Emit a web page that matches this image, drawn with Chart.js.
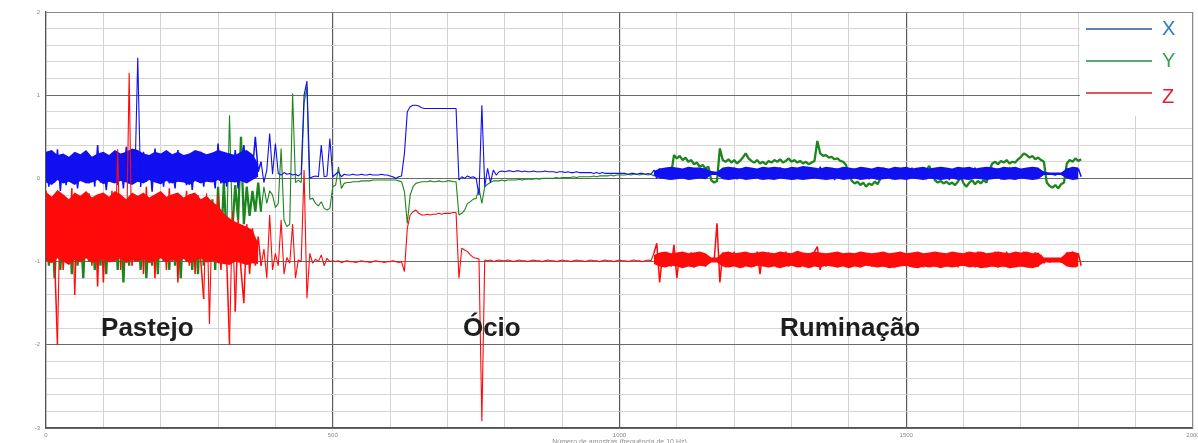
<!DOCTYPE html>
<html><head><meta charset="utf-8">
<script src="https://cdn.jsdelivr.net/npm/chart.js@4.4.1/dist/chart.umd.min.js"></script>
<style>html,body{margin:0;padding:0;background:#fff;overflow:hidden}#wrap{width:1198px;height:443px;position:relative}</style>
</head><body><div id="wrap"><canvas id="c" width="1198" height="443"></canvas></div>
<script>
// ---- data ----
const SAMPLE_STEP = 5;
const seriesNames = ['X', 'Y', 'Z'];
const xTickLabels = [0, 500, 1000, 1500, 2000];
const yTickLabels = [2, 1, 0, -1, -2, -3];
const phaseLabels = ['Pastejo', 'Ócio', 'Ruminação'];
const axisTitle = 'Número de amostras (frequência de 10 Hz)';

const accX = [
 0.30,-0.10,0.28,-0.05,0.35,-0.15,0.22,-0.08,0.18,0.02,
 0.25,-0.12,0.20,-0.02,0.15,-0.06,0.26,-0.10,0.40,-0.05,
 0.22,-0.14,0.18,0.00,0.30,-0.08,0.24,-0.12,0.38,-0.06,
 0.30,-0.02,1.45,-0.10,0.32,-0.04,0.28,-0.16,0.36,-0.02,
 0.25,-0.10,0.30,-0.06,0.22,-0.12,0.34,0.00,0.20,-0.08,
 0.28,-0.14,0.26,-0.04,0.32,-0.10,0.24,-0.02,0.18,-0.12,
 0.42,-0.06,0.22,-0.10,0.30,-0.04,0.34,-0.12,0.20,0.40,
 -0.02,0.26,0.10,0.50,0.08,
 0.20,-0.05,0.10,0.54,0.05,0.42,0.06,0.04,0.07,0.05,
 0.06,0.04,0.05,0.03,0.06,1.00,1.17,0.00,0.02,0.03,
 0.02,0.40,0.02,0.03,0.48,0.02,
 0.05,0.08,0.02,0.05,0.04,0.04,0.05,0.04,0.04,0.05,
 0.04,0.04,0.05,0.04,0.04,0.04,0.05,0.04,0.04,0.03,
 0.02,0.00,0.02,0.03,0.30,0.80,0.86,0.88,0.88,0.87,
 0.85,0.84,0.84,0.84,0.84,0.84,0.84,0.84,0.84,0.84,
 0.84,0.84,0.84,-0.02,0.02,0.00,0.03,0.01,0.02,0.00,
 -0.20,0.88,-0.10,0.12,-0.05,0.10,0.04,0.08,0.09,0.08,
 0.09,0.09,0.08,0.09,0.09,0.08,0.09,0.08,0.08,0.09,
 0.08,0.08,0.08,0.09,0.08,0.08,0.08,0.07,0.08,0.08,
 0.07,0.08,0.07,0.07,0.08,0.07,0.07,0.07,0.07,0.07,
 0.06,0.07,0.06,0.07,0.06,0.06,0.06,0.06,0.06,0.06,
 0.06,0.06,0.05,0.06,0.06,0.05,0.06,0.06,0.05,0.06,
 0.05,0.10,0.00,0.12,0.02,0.11,-0.01,0.13,0.01,0.12,
 0.00,0.11,0.02,0.13,-0.01,0.10,0.01,0.12,0.02,0.11,
 0.04,0.06,0.05,0.07,0.02,0.12,0.00,0.11,0.02,0.13,
 -0.01,0.12,0.01,0.10,0.00,0.12,0.02,0.11,-0.01,0.13,
 0.01,0.12,0.00,0.11,0.02,0.13,0.00,0.12,0.01,0.11,
 -0.01,0.12,0.02,0.13,0.00,0.11,0.01,0.12,0.03,0.14,
 0.00,0.12,0.02,0.11,-0.02,0.12,0.01,0.13,0.00,0.11,
 0.02,0.12,0.00,0.10,0.01,0.12,-0.01,0.11,0.02,0.12,
 0.00,0.13,0.01,0.11,-0.01,0.12,0.02,0.11,0.00,0.12,
 0.01,0.13,0.00,0.11,0.02,0.12,-0.01,0.11,0.01,0.12,
 0.00,0.11,0.02,0.12,-0.02,0.10,0.00,0.12,0.01,0.11,
 -0.01,0.12,0.02,0.13,0.00,0.11,0.01,0.12,0.00,0.13,
 0.01,0.12,-0.01,0.11,0.02,0.13,0.00,0.12,0.01,0.11,
 0.00,0.12,0.02,0.11,0.00,0.12,0.03,0.08,0.05,0.06,
 0.05,0.04,0.06,0.05,0.04,0.12,0.00,0.13,0.01,0.12,
 0.02
];

const accY = [
 -0.30,-1.05,-0.45,-1.20,-0.35,-1.10,-0.50,-1.00,-0.40,-1.15,
 -0.30,-1.05,-0.55,-1.20,-0.40,-1.00,-0.35,-1.10,-0.50,-1.05,
 -0.30,-1.15,-0.45,-1.00,-0.35,-1.10,-0.50,-1.25,-0.40,-1.05,
 -0.30,-1.00,-0.45,-1.10,-0.35,-1.20,-0.50,-1.05,-0.40,-1.15,
 -0.30,-1.00,-0.45,-1.10,-0.35,-1.05,-0.50,-1.20,-0.40,-1.00,
 -0.30,-1.10,-0.45,-1.15,-0.35,-1.05,-0.50,-1.00,-0.25,-1.10,
 -0.10,-0.90,-0.05,-0.70,0.76,-0.60,-0.08,-0.50,0.50,-0.55,
 -0.10,-0.45,-0.15,-0.40,-0.05,
 -0.40,-0.10,-0.30,-0.15,-0.20,-0.35,-0.30,0.36,-0.50,-0.58,
 -0.55,1.02,-0.05,-0.02,-0.05,0.90,1.10,-0.25,-0.24,-0.30,
 -0.33,-0.28,-0.36,-0.38,-0.36,-0.10,
 -0.08,0.14,-0.12,-0.06,-0.05,-0.05,-0.04,-0.04,-0.04,-0.03,
 -0.03,-0.03,-0.03,-0.02,-0.02,-0.02,-0.02,-0.02,-0.02,-0.02,
 -0.02,-0.02,-0.03,-0.04,-0.16,-0.54,-0.20,-0.10,-0.06,-0.05,
 -0.04,-0.04,-0.04,-0.03,-0.04,-0.04,-0.03,-0.04,-0.04,-0.03,
 -0.03,-0.04,-0.04,-0.44,-0.42,-0.38,-0.30,-0.28,-0.25,-0.24,
 -0.12,-0.30,-0.10,-0.07,-0.05,-0.03,-0.03,-0.03,-0.02,-0.03,
 -0.02,-0.02,-0.02,-0.02,-0.01,-0.02,-0.01,-0.01,-0.01,-0.01,
 0.00,-0.01,0.00,0.00,0.00,0.00,0.00,0.01,0.00,0.01,
 0.01,0.01,0.01,0.02,0.01,0.02,0.02,0.02,0.02,0.02,
 0.03,0.02,0.03,0.03,0.03,0.03,0.04,0.03,0.04,0.04,
 0.04,0.04,0.05,0.04,0.05,0.05,0.04,0.05,0.05,0.04,
 0.05,0.03,0.07,0.04,0.06,0.05,0.08,0.05,0.28,0.24,
 0.27,0.22,0.25,0.20,0.22,0.17,0.19,0.14,0.16,0.12,
 0.14,-0.02,-0.05,-0.03,0.36,0.22,0.20,0.23,0.19,0.22,
 0.18,0.21,0.25,0.30,0.24,0.21,0.19,0.22,0.18,0.20,
 0.17,0.21,0.19,0.22,0.20,0.23,0.19,0.21,0.24,0.20,
 0.22,0.19,0.21,0.18,0.20,0.17,0.19,0.21,0.45,0.30,
 0.27,0.28,0.25,0.26,0.23,0.24,0.21,0.20,0.16,0.05,
 -0.03,-0.06,-0.04,-0.08,-0.05,-0.10,-0.06,-0.08,-0.04,-0.07,
 0.00,0.06,0.04,0.08,0.05,0.07,0.04,0.08,0.06,0.09,
 0.05,0.08,0.06,0.10,0.07,0.11,0.09,0.15,0.08,-0.02,
 -0.05,-0.03,-0.06,-0.04,-0.07,-0.05,-0.08,-0.04,0.02,-0.06,
 -0.10,-0.05,-0.02,-0.07,-0.03,-0.06,-0.02,-0.05,0.10,0.18,
 0.20,0.17,0.21,0.19,0.22,0.18,0.20,0.19,0.23,0.26,
 0.30,0.28,0.25,0.27,0.23,0.25,0.22,0.20,-0.05,-0.09,
 -0.11,-0.08,-0.12,-0.07,-0.05,0.18,0.22,0.20,0.24,0.21,
 0.23
];

const accZ = [
 -0.15,-1.00,-0.25,-0.95,-2.00,-0.20,-1.10,-0.30,-0.95,-0.12,
 -1.40,-0.22,-1.00,-0.30,-0.90,-0.18,-1.05,-0.25,-1.30,-0.20,
 -1.25,-0.35,-0.95,-0.15,-1.00,0.35,-1.10,-0.28,-0.95,1.27,
 -1.05,-0.20,-0.98,-0.30,-1.15,-0.10,-1.00,-0.25,-1.20,-0.18,
 -0.95,-0.30,-1.10,-0.12,-1.00,-0.22,-1.25,-0.28,-0.95,-0.15,
 -1.05,-0.25,-1.15,-0.20,-1.00,-1.45,-0.18,-1.75,-0.30,-1.00,
 -0.20,-1.10,-0.45,-0.95,-2.00,-0.40,-1.60,-0.50,-1.10,-1.50,
 -0.55,-1.15,-0.60,-1.05,-0.70,
 -1.05,-0.85,-1.20,-0.44,-1.10,-0.90,-1.05,-0.50,-1.15,-0.95,
 -1.02,-0.55,-1.20,-0.98,-1.00,0.10,-1.44,-0.90,-1.02,-0.97,
 -1.00,-0.92,-1.05,-0.96,-1.00,-0.99,
 -1.00,-0.99,-1.01,-1.00,-0.99,-1.00,-1.00,-1.01,-1.00,-0.99,
 -1.00,-1.00,-1.01,-1.00,-0.99,-1.00,-1.00,-1.01,-1.00,-1.00,
 -0.99,-1.00,-1.01,-1.00,-1.12,-0.60,-0.44,-0.40,-0.38,-0.42,
 -0.44,-0.44,-0.43,-0.44,-0.43,-0.43,-0.42,-0.43,-0.42,-0.42,
 -0.42,-0.41,-0.41,-1.20,-0.84,-0.86,-0.88,-0.92,-0.95,-0.96,
 -0.97,-2.92,-0.98,-0.99,-0.98,-1.00,-0.99,-0.98,-0.99,-0.99,
 -0.98,-0.99,-1.00,-0.99,-0.98,-0.99,-0.99,-1.00,-0.99,-0.98,
 -0.99,-0.99,-1.00,-0.99,-0.98,-0.99,-0.99,-1.00,-0.99,-0.98,
 -0.99,-0.99,-1.00,-0.99,-0.98,-0.99,-0.99,-1.00,-0.99,-0.98,
 -0.99,-0.99,-1.00,-0.99,-0.98,-0.99,-0.99,-1.00,-0.99,-0.98,
 -0.99,-0.99,-1.00,-0.99,-0.98,-0.99,-0.99,-1.00,-0.99,-0.98,
 -0.99,-0.90,-0.78,-1.25,-0.92,-1.05,-0.91,-1.06,-0.80,-1.20,
 -0.90,-1.06,-0.91,-1.05,-0.89,-1.07,-0.92,-1.04,-0.90,-1.06,
 -0.95,-0.98,-0.99,-0.54,-1.25,-0.89,-1.07,-0.90,-1.05,-0.88,
 -1.06,-0.91,-1.07,-0.89,-1.05,-0.90,-1.06,-0.88,-1.15,-0.90,
 -1.05,-0.89,-1.06,-0.91,-1.07,-0.90,-1.05,-0.88,-1.06,-0.90,
 -1.05,-0.89,-1.07,-0.91,-1.06,-0.90,-1.05,-0.88,-0.82,-1.10,
 -0.90,-1.06,-0.92,-1.05,-0.91,-1.07,-0.93,-1.05,-0.92,-1.06,
 -0.91,-1.05,-0.93,-1.07,-0.92,-1.04,-0.91,-1.06,-0.92,-1.05,
 -0.90,-1.06,-0.91,-1.05,-0.90,-1.07,-0.92,-1.05,-0.91,-1.06,
 -0.90,-1.05,-0.92,-1.06,-0.91,-1.07,-0.90,-1.05,-0.92,-1.06,
 -0.91,-1.05,-0.90,-1.06,-0.92,-1.05,-0.91,-1.07,-0.90,-1.05,
 -0.89,-1.06,-0.90,-1.07,-0.88,-1.06,-0.89,-1.07,-0.90,-1.06,
 -0.88,-1.07,-0.89,-1.06,-0.88,-1.07,-0.90,-1.05,-0.89,-1.06,
 -0.88,-1.07,-0.90,-1.05,-0.89,-1.06,-0.92,-1.02,-0.96,-1.01,
 -0.97,-1.00,-0.96,-1.01,-0.97,-0.89,-1.06,-0.88,-1.07,-0.90,
 -1.05
];

// dense-noise envelopes (top / bottom of the solid band), one value per 10 samples:
// first 38 values = Pastejo (samples 0..370), next 75 = Ruminação (samples 1060..1800)
const BAND_STEP = 10;
const bandStarts = [0, 1060];
const bandLengths = [38, 75];
const xBandHigh = [
 0.32,0.34,0.28,0.30,0.26,0.32,0.29,0.34,0.26,0.30,0.32,0.28,0.34,0.30,0.32,0.36,0.34,0.30,0.28,0.32,
 0.30,0.34,0.29,0.32,0.28,0.30,0.34,0.32,0.29,0.31,0.34,0.32,0.30,0.28,0.32,0.34,0.29,0.18,
 0.09,0.12,0.13,0.14,0.13,0.12,0.14,0.13,0.13,0.12,0.09,0.08,0.13,0.14,0.13,0.12,0.14,0.13,0.12,0.14,
 0.13,0.14,0.13,0.12,0.14,0.13,0.15,0.14,0.13,0.12,0.14,0.13,0.12,0.14,0.13,0.12,0.14,0.13,0.12,0.14,
 0.13,0.12,0.14,0.13,0.14,0.12,0.13,0.14,0.12,0.13,0.14,0.13,0.12,0.14,0.13,0.14,0.12,0.13,0.14,0.13,
 0.12,0.14,0.13,0.14,0.12,0.13,0.14,0.13,0.08,0.07,0.07,0.07,0.12,0.14,0.13
];
const xBandLow = [
 -0.05,-0.08,-0.02,-0.06,-0.04,-0.08,-0.03,-0.06,-0.05,-0.02,-0.07,-0.04,-0.06,-0.03,-0.05,-0.08,-0.04,-0.06,-0.02,-0.05,
 -0.07,-0.03,-0.06,-0.04,-0.05,-0.08,-0.03,-0.06,-0.04,-0.05,-0.02,-0.06,-0.04,-0.05,-0.03,-0.06,-0.02,0.02,
 0.04,0.00,-0.01,-0.02,-0.01,0.00,-0.02,-0.01,0.00,-0.01,0.04,0.04,-0.01,-0.02,-0.01,0.00,-0.02,-0.01,0.00,-0.02,
 -0.01,-0.02,0.00,-0.01,-0.02,-0.01,-0.02,-0.01,0.00,-0.01,-0.02,-0.01,0.00,-0.02,-0.01,0.00,-0.02,-0.01,0.00,-0.02,
 -0.01,0.00,-0.02,-0.01,-0.02,0.00,-0.01,-0.02,0.00,-0.01,-0.02,-0.01,0.00,-0.02,-0.01,-0.02,0.00,-0.01,-0.02,-0.01,
 0.00,-0.02,-0.01,-0.02,0.00,-0.01,-0.02,-0.01,0.04,0.04,0.04,0.04,0.00,-0.02,-0.01
];
const zBandHigh = [
 -0.16,-0.22,-0.14,-0.19,-0.25,-0.17,-0.21,-0.15,-0.23,-0.19,-0.17,-0.22,-0.15,-0.19,-0.25,-0.17,-0.21,-0.17,-0.23,-0.19,
 -0.15,-0.22,-0.19,-0.17,-0.23,-0.19,-0.17,-0.25,-0.21,-0.28,-0.33,-0.42,-0.48,-0.52,-0.55,-0.58,-0.62,-0.78,
 -0.92,-0.89,-0.88,-0.90,-0.89,-0.88,-0.90,-0.89,-0.88,-0.90,-0.95,-0.95,-0.89,-0.88,-0.90,-0.89,-0.88,-0.90,-0.89,-0.88,
 -0.89,-0.90,-0.88,-0.89,-0.90,-0.87,-0.89,-0.90,-0.88,-0.89,-0.90,-0.89,-0.88,-0.90,-0.89,-0.90,-0.88,-0.89,-0.90,-0.89,
 -0.88,-0.90,-0.89,-0.88,-0.90,-0.89,-0.88,-0.90,-0.89,-0.88,-0.89,-0.90,-0.88,-0.89,-0.90,-0.88,-0.89,-0.88,-0.90,-0.89,
 -0.88,-0.89,-0.90,-0.88,-0.89,-0.88,-0.90,-0.89,-0.95,-0.95,-0.95,-0.95,-0.89,-0.88,-0.90
];
const zBandLow = [
 -0.99,-1.02,-0.96,-1.00,-1.04,-0.98,-1.01,-0.96,-1.02,-0.99,-0.97,-1.01,-0.99,-0.96,-1.02,-0.98,-1.00,-0.97,-1.02,-0.99,
 -0.96,-1.01,-0.98,-1.00,-0.97,-1.02,-0.99,-0.96,-1.01,-0.99,-1.02,-1.03,-1.04,-1.00,-1.02,-1.04,-1.02,-1.03,
 -1.03,-1.06,-1.07,-1.05,-1.06,-1.08,-1.06,-1.07,-1.05,-1.06,-1.01,-1.01,-1.06,-1.07,-1.06,-1.08,-1.06,-1.07,-1.05,-1.06,
 -1.07,-1.06,-1.08,-1.06,-1.05,-1.07,-1.06,-1.08,-1.06,-1.07,-1.05,-1.06,-1.07,-1.06,-1.08,-1.06,-1.07,-1.05,-1.06,-1.07,
 -1.06,-1.08,-1.07,-1.06,-1.05,-1.07,-1.08,-1.06,-1.07,-1.06,-1.08,-1.06,-1.07,-1.06,-1.05,-1.07,-1.06,-1.08,-1.07,-1.06,
 -1.07,-1.06,-1.08,-1.07,-1.06,-1.07,-1.08,-1.06,-1.01,-1.01,-1.01,-1.01,-1.06,-1.07,-1.06
];

// sample index of every stored value (x axis)
const sampleIndex = accX.map((_, i) => i * SAMPLE_STEP);

// ---- styling / layout (not data) ----
const lineColors = ['#1010f0', '#1c861c', '#ff0a0a'];
const legendLineColors = ['#24589a', '#2a8a48', '#d2202c'];
const legendTextColors = ['#2c7cc4', '#3a9e52', '#e41e2a'];
const noisyWidth = [1.5, 2.3, 1.5];
const noisyZones = [[0, 372], [1058, 1810]];
const phaseAnchors = [{ sample: 96, value: -1.89 }, { sample: 727, value: -1.89 }, { sample: 1280, value: -1.89 }];

const toPoints = arr => arr.map((v, i) => ({ x: sampleIndex[i], y: v }));
const toBandPoints = arr => {
  const pts = [];
  arr.forEach((v, i) => {
    const first = i < bandLengths[0];
    const s = first ? bandStarts[0] + i * BAND_STEP : bandStarts[1] + (i - bandLengths[0]) * BAND_STEP;
    pts.push({ x: s, y: v });
    if (i === bandLengths[0] - 1) pts.push({ x: (bandStarts[0] + bandStarts[1]) / 2, y: null });
  });
  return pts;
};
const series = [accX, accY, accZ];
const drawOrder = [4, 6, 2];
const inNoisy = s => noisyZones.some(z => s >= z[0] && s < z[1]);

const isMajorX = v => xTickLabels.includes(Math.round(v));
const isMajorY = v => yTickLabels.includes(Math.round(v * 10) / 10);

const lineDatasets = series.map((s, k) => ({
  label: seriesNames[k],
  data: toPoints(s),
  borderColor: lineColors[k],
  borderWidth: 1.1,
  borderJoinStyle: 'bevel',
  pointRadius: 0,
  tension: 0,
  fill: false,
  order: drawOrder[k],
  segment: {
    borderWidth: c => (inNoisy(c.p0.parsed.x) && Math.abs(c.p1.parsed.y - c.p0.parsed.y) < 1.2) ? noisyWidth[k] : 1.1
  }
}));
const bandDataset = (arr, color, order, fill) => ({
  label: '', data: toBandPoints(arr), borderWidth: 0, borderColor: 'rgba(0,0,0,0)',
  backgroundColor: color, pointRadius: 0, tension: 0, spanGaps: false, order, fill
});
const bandDatasets = [
  bandDataset(xBandLow, lineColors[0], 5, false),
  bandDataset(xBandHigh, lineColors[0], 5, '-1'),
  bandDataset(zBandLow, lineColors[2], 3, false),
  bandDataset(zBandHigh, lineColors[2], 3, '-1')
];

const framePlugin = {
  id: 'frame',
  beforeDatasetsDraw(chart) {
    const { ctx, chartArea: a } = chart;
    ctx.save();
    ctx.strokeStyle = '#8a8a8a';
    ctx.lineWidth = 1;
    ctx.beginPath();
    ctx.moveTo(a.left, a.top + 0.5); ctx.lineTo(a.right - 0.5, a.top + 0.5); ctx.lineTo(a.right - 0.5, a.bottom);
    ctx.stroke();
    ctx.restore();
  }
};

const overlayPlugin = {
  id: 'overlay',
  afterDraw(chart) {
    const { ctx, chartArea: a } = chart;
    const xs = chart.scales.x, ys = chart.scales.y;
    ctx.save();
    ctx.fillStyle = '#1e1e1e';
    ctx.font = "bold 26px 'Liberation Sans', Arial, sans-serif";
    ctx.textBaseline = 'alphabetic';
    ctx.textAlign = 'left';
    phaseLabels.forEach((t, k) => {
      ctx.fillText(t, xs.getPixelForValue(phaseAnchors[k].sample), ys.getPixelForValue(phaseAnchors[k].value));
    });
    ctx.fillStyle = '#ffffff';
    ctx.fillRect(1080, a.top + 1, a.right - 1081, 103);
    const rowsY = [29, 61, 93];
    seriesNames.forEach((name, k) => {
      ctx.strokeStyle = legendLineColors[k];
      ctx.lineWidth = 1.5;
      ctx.beginPath();
      ctx.moveTo(1086, rowsY[k]); ctx.lineTo(1152, rowsY[k]);
      ctx.stroke();
      ctx.fillStyle = legendTextColors[k];
      ctx.font = "20px 'Liberation Sans', Arial, sans-serif";
      ctx.textBaseline = 'middle';
      ctx.fillText(name, 1162, rowsY[k] + (k === 2 ? 4 : 0));
    });
    ctx.fillStyle = '#8c8c8c';
    ctx.font = "7px 'Liberation Sans', Arial, sans-serif";
    ctx.textAlign = 'center';
    ctx.textBaseline = 'alphabetic';
    ctx.fillText(axisTitle, (a.left + a.right) / 2, 444);
    ctx.restore();
  }
};

new Chart(document.getElementById('c'), {
  type: 'line',
  data: { datasets: [...lineDatasets, ...bandDatasets] },
  options: {
    responsive: false,
    animation: false,
    devicePixelRatio: 1,
    layout: { padding: { top: 12, right: 5, left: 0, bottom: 0 } },
    plugins: { legend: { display: false }, tooltip: { enabled: false } },
    scales: {
      x: {
        type: 'linear', min: 0, max: 2000,
        ticks: {
          stepSize: 100, autoSkip: false, maxRotation: 0, padding: 4,
          color: '#8a8a8a', font: { size: 6, family: "'Liberation Sans', Arial" },
          callback: v => isMajorX(v) ? String(Math.round(v)) : ''
        },
        grid: {
          drawTicks: false,
          color: c => isMajorX(c.tick.value) ? '#5a5a5a' : '#d2d2d2',
          lineWidth: c => isMajorX(c.tick.value) ? 1.2 : 1
        },
        border: { display: true, color: '#555', width: 1.2 },
        afterFit: s => { s.height = 15; s.paddingLeft = 0; s.paddingRight = 0; }
      },
      y: {
        type: 'linear', min: -3, max: 2,
        ticks: {
          stepSize: 0.2, autoSkip: false, padding: 6,
          color: '#8a8a8a', font: { size: 6, family: "'Liberation Sans', Arial" },
          callback: v => isMajorY(v) ? String(Math.round(v)) : ''
        },
        grid: {
          drawTicks: false,
          color: c => isMajorY(c.tick.value) ? '#6a6a6a' : '#d6d6d6',
          lineWidth: 1
        },
        border: { display: true, color: '#555', width: 1.2 },
        afterFit: s => { s.width = 46; }
      }
    }
  },
  plugins: [framePlugin, overlayPlugin]
});
</script>
</body></html>
